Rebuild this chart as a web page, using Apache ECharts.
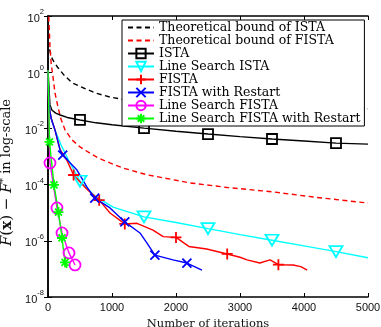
<!DOCTYPE html>
<html>
<head>
<meta charset="utf-8">
<script src="https://cdn.jsdelivr.net/npm/echarts@6/dist/echarts.min.js"></script>
<style>
html,body{margin:0;padding:0;background:#fff;}
#c{width:381px;height:327px;}
</style>
</head>
<body>
<div id="c"></div>
<script>
// ---- data ----
const seriesNames = [
  'Theoretical bound of ISTA',
  'Theoretical bound of FISTA',
  'ISTA',
  'Line Search ISTA',
  'FISTA',
  'FISTA with Restart',
  'Line Search FISTA',
  'Line Search FISTA with Restart'
];
const xTickValues = [0, 1000, 2000, 3000, 4000, 5000];
const yTickExponents = [2, 0, -2, -4, -6, -8];

const boundIstaIter = [25, 50, 94, 150, 250, 375, 547, 750, 969, 1200, 2000, 3000, 4000, 5000];
const boundIstaVal  = [6.5, 3.6, 2.3, 1.5, 0.79, 0.42, 0.28, 0.18, 0.13, 0.105, 0.075, 0.062, 0.055, 0.05];

const boundFistaIter = [12, 31, 50, 78, 110, 156, 200, 266, 375, 500, 625, 781, 969, 1172, 1391, 1562, 2219, 2800, 3516, 4200, 5000];
const boundFistaVal  = [95, 7.9, 2.0, 0.68, 0.178, 0.0575, 0.0224, 0.0089, 0.0039, 0.0022, 0.00145, 0.00089, 0.00059, 0.00039, 0.00028, 0.00022, 0.000115, 0.000079, 0.000055, 0.000035, 0.000022];

const istaIter = [0, 15, 30, 60, 120, 190, 300, 500, 750, 1000, 1500, 2000, 2500, 3000, 3500, 4000, 4500, 5000];
const istaVal  = [1.2, 0.3, 0.07, 0.045, 0.035, 0.030, 0.0245, 0.020, 0.0158, 0.0135, 0.0102, 0.0079, 0.0063, 0.0051, 0.0042, 0.00355, 0.0030, 0.00275];
const istaMarks = [500, 1500, 2500, 3500, 4500];

const lsIstaIter = [0, 10, 30, 60, 109, 203, 344, 500, 734, 1016, 1500, 2000, 2500, 3000, 3500, 4000, 4500, 5000];
const lsIstaVal  = [1.2, 0.16, 0.04, 0.018, 0.0087, 0.0026, 0.00059, 0.000132, 3.9e-5, 1.58e-5, 7.1e-6, 4.5e-6, 2.7e-6, 1.66e-6, 1.05e-6, 6.6e-7, 4.1e-7, 2.5e-7];
const lsIstaMarks = [500, 1500, 2500, 3500, 4500];

const fistaIter = [0, 10, 25, 50, 109, 188, 300, 400, 600, 800, 969, 1200, 1390, 1640, 1800, 2000, 2200, 2480, 2800, 3000, 3110, 3310, 3470, 3600, 3830, 3950, 4050];
const fistaVal  = [1.2, 0.13, 0.046, 0.023, 0.0089, 0.0018, 0.0007, 0.00022, 7.1e-5, 2.8e-5, 9.8e-6, 4.0e-6, 4.2e-6, 2.4e-6, 1.41e-6, 1.32e-6, 6.3e-7, 5.1e-7, 3.4e-7, 2.6e-7, 2.1e-7, 1.62e-7, 2.1e-7, 1.41e-7, 1.38e-7, 1.2e-7, 9.1e-8];
const fistaMarks = [400, 800, 1200, 2000, 2800, 3600];

const fistaRIter = [0, 10, 25, 50, 109, 188, 230, 453, 609, 730, 969, 1200, 1437, 1547, 1670, 1953, 2170, 2406];
const fistaRVal  = [1.2, 0.126, 0.045, 0.0224, 0.0087, 0.0017, 0.00112, 0.00033, 8.1e-5, 3.3e-5, 1.48e-5, 4.7e-6, 1.9e-6, 8.3e-7, 3.1e-7, 2.1e-7, 1.62e-7, 9.1e-8];
const fistaRMarks = [230, 730, 1200, 1670, 2170];

const lsFistaIter = [0, 20, 31, 140, 219, 328, 422];
const lsFistaVal  = [1.2, 0.004, 5.9e-4, 1.48e-5, 1.9e-6, 3.7e-7, 1.38e-7];
const lsFistaMarks = [31, 140, 219, 328, 422];

const lsFistaRIter = [0, 12, 23, 94, 164, 219, 266, 297];
const lsFistaRVal  = [1.2, 0.063, 0.0033, 9.8e-5, 1.05e-5, 1.26e-6, 1.7e-7, 1.07e-7];
const lsFistaRMarks = [23, 94, 164, 219, 266];

// ---- build ----
function build(iters, vals, marks) {
  return iters.map(function (t, i) {
    const item = { value: [t, vals[i]] };
    if (!marks || marks.indexOf(t) < 0) item.symbol = 'none';
    return item;
  });
}
const SERIF = 'DejaVu Serif';
const SANS = 'Liberation Sans';

const PLUS = 'path://M0,5L10,5M5,0L5,10';
const CROSS = 'path://M0,0L10,10M0,10L10,0';
const STAR = 'path://M0,5L10,5M5,0L5,10M1.5,1.5L8.5,8.5M1.5,8.5L8.5,1.5';

function lineSeries(name, iters, vals, marks, color, opts) {
  const hasMark = !!opts.symbol;
  return {
    name: name,
    type: 'line',
    data: build(iters, vals, marks),
    showSymbol: true,
    symbol: opts.symbol || 'none',
    symbolSize: opts.symbolSize || 10,
    symbolRotate: opts.symbolRotate || 0,
    symbolKeepAspect: true,
    smooth: false,
    clip: true,
    lineStyle: { color: color, width: opts.width || 1.4, type: opts.type || 'solid' },
    itemStyle: { color: 'rgba(0,0,0,0)', borderColor: hasMark ? color : 'rgba(0,0,0,0)', borderWidth: hasMark ? 1.8 : 0 },
    emphasis: { disabled: true }
  };
}

const series = [
  lineSeries(seriesNames[0], boundIstaIter, boundIstaVal, null, '#000000', { type: [5, 3.5], width: 1.4 }),
  lineSeries(seriesNames[1], boundFistaIter, boundFistaVal, null, '#ff0000', { type: [5, 3.5], width: 1.4 }),
  lineSeries(seriesNames[2], istaIter, istaVal, istaMarks, '#000000', { symbol: 'rect', symbolSize: 10 }),
  lineSeries(seriesNames[3], lsIstaIter, lsIstaVal, lsIstaMarks, '#00ffff', { symbol: 'triangle', symbolSize: [13, 11], symbolRotate: 180 }),
  lineSeries(seriesNames[4], fistaIter, fistaVal, fistaMarks, '#ff0000', { symbol: PLUS, symbolSize: 11 }),
  lineSeries(seriesNames[5], fistaRIter, fistaRVal, fistaRMarks, '#0000ff', { symbol: CROSS, symbolSize: 9 }),
  lineSeries(seriesNames[6], lsFistaIter, lsFistaVal, lsFistaMarks, '#ff00ff', { symbol: 'circle', symbolSize: 11 }),
  lineSeries(seriesNames[7], lsFistaRIter, lsFistaRVal, lsFistaRMarks, '#00ff00', { symbol: STAR, symbolSize: 10 })
];

const axisLineStyle = { color: '#000', width: 1.5 };
const tickStyle = { show: true, inside: true, length: 4, lineStyle: { color: '#000', width: 1 } };
const chart = echarts.init(document.getElementById('c'), null, { renderer: 'canvas' });
chart.setOption({
  animation: false,
  backgroundColor: '#ffffff',
  grid: { left: 48, right: 13, top: 16, bottom: 30, containLabel: false, outerBoundsMode: 'none' },
  legend: {
    data: seriesNames,
    orient: 'vertical',
    left: 122,
    top: 20,
    padding: [1, 4, 1, 5],
    itemWidth: 26,
    itemHeight: 11.6,
    itemGap: 0,
    backgroundColor: '#ffffff',
    borderColor: '#000000',
    borderWidth: 1,
    borderRadius: 0,
    selectedMode: false,
    z: 10,
    textStyle: { fontFamily: SERIF, fontSize: 12.5, color: '#000', lineHeight: 11.6 }
  },
  xAxis: [{
    type: 'value', min: xTickValues[0], max: xTickValues[xTickValues.length - 1], interval: 1000,
    axisLine: { show: true, lineStyle: axisLineStyle },
    axisTick: tickStyle,
    splitLine: { show: false },
    axisLabel: { fontFamily: SANS, fontSize: 11, color: '#111', margin: 5, formatter: function (v) { return String(v); } },
    name: 'Number of iterations', nameLocation: 'middle', nameGap: 18,
    nameTextStyle: { fontFamily: SERIF, fontSize: 11.5, color: '#111' }
  }, {
    type: 'value', position: 'top', min: xTickValues[0], max: xTickValues[xTickValues.length - 1], interval: 1000,
    axisLine: { show: true, lineStyle: axisLineStyle },
    axisTick: tickStyle,
    splitLine: { show: false }, axisLabel: { show: false }
  }],
  yAxis: [{
    type: 'log', logBase: 10, min: Math.pow(10, yTickExponents[yTickExponents.length - 1]), max: Math.pow(10, yTickExponents[0]),
    interval: 2,
    axisLine: { show: true, lineStyle: axisLineStyle },
    axisTick: tickStyle,
    minorTick: { show: false },
    splitLine: { show: false },
    axisLabel: {
      margin: 4,
      formatter: function (v) {
        const e = Math.round(Math.log10(v));
        if (yTickExponents.indexOf(e) < 0) return '';
        return '{b|10}{e|' + e + '}';
      },
      rich: {
        b: { fontFamily: SANS, fontSize: 11, color: '#111', lineHeight: 16, verticalAlign: 'bottom' },
        e: { fontFamily: SANS, fontSize: 7.5, color: '#111', lineHeight: 16, verticalAlign: 'top' }
      }
    },
    name: '{i|F}{n|(}{bx|x}{n|) − }{i|F}{s|*}{t| in log-scale}',
    nameLocation: 'middle', nameRotate: 90, nameGap: 24,
    nameTextStyle: {
      padding: [0, 32, 0, 0],
      rich: {
        i: { fontFamily: SERIF, fontSize: 15, fontStyle: 'italic', color: '#111' },
        n: { fontFamily: SERIF, fontSize: 15, color: '#111' },
        bx: { fontFamily: SERIF, fontSize: 15, fontWeight: 'bold', color: '#111' },
        s: { fontFamily: SERIF, fontSize: 9, color: '#111', verticalAlign: 'top' },
        t: { fontFamily: SERIF, fontSize: 13, color: '#111' }
      }
    }
  }, {
    type: 'log', logBase: 10, position: 'right', min: Math.pow(10, yTickExponents[yTickExponents.length - 1]), max: Math.pow(10, yTickExponents[0]),
    interval: 2,
    axisLine: { show: true, lineStyle: axisLineStyle },
    axisTick: tickStyle,
    minorTick: { show: false }, splitLine: { show: false }, axisLabel: { show: false }
  }],
  series: series
});
</script>
</body>
</html>
